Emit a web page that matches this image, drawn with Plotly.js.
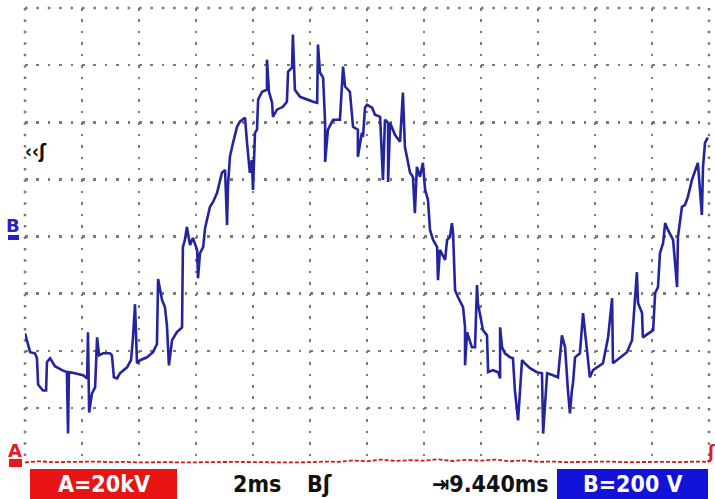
<!DOCTYPE html>
<html>
<head>
<meta charset="utf-8">
<script src="https://cdn.plot.ly/plotly-3.0.1.min.js"></script>
<style>html,body{margin:0;padding:0;background:#fff;}#chart{width:715px;height:499px;}</style>
</head>
<body>
<div id="chart"></div>
<script>
// Channel B (blue) : time in ms, voltage in V (200 V/div)
const timeB = [0,0.07,0.18,0.35,0.42,0.46,0.63,0.74,0.77,0.88,1.05,1.30,1.47,1.51,1.54,1.75,2.04,2.18,2.21,2.25,2.35,2.46,2.53,2.60,2.74,2.98,3.05,3.12,3.23,3.33,3.58,3.72,3.79,3.86,3.93,4.04,4.28,4.49,4.63,4.67,4.81,4.91,4.98,5.05,5.16,5.33,5.51,5.54,5.61,5.68,5.79,5.89,6.04,6.07,6.14,6.25,6.32,6.49,6.60,6.74,6.91,7.02,7.09,7.12,7.19,7.30,7.44,7.54,7.72,7.79,7.89,7.96,8.00,8.07,8.14,8.18,8.32,8.49,8.49,8.56,8.67,8.70,8.84,9.05,9.19,9.23,9.37,9.40,9.47,9.65,9.89,10.11,10.25,10.28,10.35,10.46,10.53,10.53,10.63,10.81,11.05,11.16,11.23,11.40,11.51,11.68,11.68,11.82,11.86,11.93,12.00,12.18,12.28,12.46,12.56,12.63,12.74,12.74,12.81,12.98,13.16,13.26,13.33,13.40,13.51,13.61,13.68,13.75,13.86,13.96,14.04,14.14,14.21,14.32,14.46,14.49,14.56,14.74,14.81,14.91,14.98,15.02,15.09,15.19,15.37,15.44,15.44,15.51,15.68,15.79,15.86,15.89,15.96,16.07,16.21,16.25,16.42,16.60,16.67,16.67,16.74,16.84,17.02,17.12,17.19,17.30,17.37,17.44,17.54,17.72,17.96,18.14,18.18,18.32,18.53,18.70,18.84,18.95,19.05,19.12,19.19,19.23,19.30,19.47,19.58,19.72,19.82,19.93,20.28,20.46,20.60,20.63,20.88,21.12,21.30,21.40,21.47,21.51,21.65,21.68,21.86,22.04,22.11,22.21,22.28,22.39,22.46,22.56,22.74,22.88,22.91,23.05,23.16,23.26,23.40,23.51,23.61,23.75,23.79,23.86,23.96];
const voltB = [-339,-363,-405,-409,-426,-518,-539,-539,-440,-426,-454,-468,-475,-690,-475,-479,-486,-497,-335,-616,-549,-528,-353,-416,-409,-409,-416,-493,-497,-479,-458,-433,-353,-237,-444,-433,-423,-405,-377,-149,-223,-247,-311,-451,-363,-335,-318,-37,-12,33,-30,-5,-47,-146,-58,-37,30,104,121,153,223,233,40,174,279,328,384,402,416,328,223,268,163,363,374,479,507,514,619,507,468,419,444,454,472,577,591,707,514,489,479,472,468,672,574,556,398,261,374,409,409,595,525,507,384,374,279,363,349,451,461,451,426,419,198,409,398,191,398,356,332,504,314,279,223,209,82,244,209,258,163,128,23,-12,-37,-153,-47,-82,-12,-2,47,12,-188,-212,-247,-318,-451,-335,-388,-388,-170,-233,-268,-328,-346,-475,-468,-475,-497,-318,-388,-409,-423,-426,-539,-644,-539,-433,-444,-461,-475,-479,-690,-479,-486,-493,-346,-388,-539,-619,-539,-511,-423,-409,-268,-398,-493,-468,-444,-353,-216,-444,-423,-405,-363,-212,-125,-233,-268,-353,-339,-328,-198,-177,-58,-23,47,23,-12,-177,-2,104,111,139,198,233,258,75,244,328,346];

// Channel A (red) : time in ms, voltage in kV (20 kV/div)
const timeA = [0,0.5,1,1.5,2,2.5,3,3.5,4,4.5,5,5.5,6,6.5,7,7.5,8,8.5,9,9.5,10,10.5,11,11.5,12,12.5,13,13.5,14,14.5,15,15.5,16,16.5,17,17.5,18,18.5,19,19.5,20,20.5,21,21.5,22,22.5,23,23.5,24];
const voltA = [0.2,0.6,0.3,0.4,0.3,0.5,0.3,0.4,0.2,0.3,0.3,0.2,0.3,0.2,0.3,0.4,0.3,0.2,0.3,0.2,0.3,0.5,0.4,0.9,0.6,1.2,0.7,1.0,0.8,1.3,0.7,1.1,0.8,1.2,0.6,0.9,0.4,0.5,0.3,0.4,0.3,0.5,0.3,0.4,0.3,0.4,0.3,0.5,0.4];

const xTicks = [0,2,4,6,8,10,12,14,16,18,20,22,24];
const yTicks = [-800,-600,-400,-200,0,200,400,600,800];

const traceB = {
  x: timeB, y: voltB, type: 'scatter', mode: 'lines',
  line: {color: '#24249e', width: 2.6}, hoverinfo: 'skip', showlegend: false
};
const traceA = {
  x: timeA, y: voltA, type: 'scatter', mode: 'lines', yaxis: 'y2',
  line: {color: '#cc1a1a', width: 1.8, dash: '4px,2px'}, hoverinfo: 'skip', showlegend: false
};

const W = 715, H = 499, L = 25, R = 709, T = 8, B = 465;
const px = x => (x - L) / (R - L);
const py = y => (B - y) / (B - T);

const GRID = '#7a7a7a';
const fontBar = {family: 'DejaVu Sans Condensed, DejaVu Sans, sans-serif', size: 23, color: '#111'};
const annW = Object.assign({}, fontBar, {color: '#fff'});

const layout = {
  width: W, height: H,
  margin: {l: L, r: W - R, t: T, b: H - B, pad: 0},
  paper_bgcolor: '#ffffff', plot_bgcolor: '#ffffff',
  xaxis: {
    range: [0, 24], tickvals: xTicks, showticklabels: false, ticks: '',
    showgrid: true, gridcolor: GRID, gridwidth: 2.5, griddash: '2.5px,8.925px',
    zeroline: false, showline: false, fixedrange: true
  },
  yaxis: {
    range: [-800, 800], tickvals: yTicks, showticklabels: false, ticks: '',
    showgrid: true, gridcolor: GRID, gridwidth: 2.5, griddash: '2.5px,8.9px',
    zeroline: false, showline: false, fixedrange: true
  },
  yaxis2: {
    overlaying: 'y', range: [-0.7, 159.3], showgrid: false, zeroline: false,
    showticklabels: false, ticks: '', showline: false
  },
  shapes: [
    {type: 'line', xref: 'paper', yref: 'paper', x0: 0, x1: 1, y0: 1, y1: 1, layer: 'below',
     line: {color: GRID, width: 2.5, dash: '2.5px,8.9px'}},
    {type: 'line', xref: 'paper', yref: 'paper', x0: 0, x1: 0, y0: 1, y1: 0, layer: 'below',
     line: {color: GRID, width: 2.5, dash: '2.5px,8.925px'}},
    {type: 'line', xref: 'paper', yref: 'paper', x0: 1, x1: 1, y0: 1, y1: 0, layer: 'below',
     line: {color: GRID, width: 2.5, dash: '2.5px,8.925px'}},
    {type: 'rect', xref: 'paper', yref: 'paper', x0: px(30), x1: px(177), y0: py(499), y1: py(469),
     fillcolor: '#e81414', line: {width: 0}},
    {type: 'rect', xref: 'paper', yref: 'paper', x0: px(557), x1: px(708), y0: py(499), y1: py(469),
     fillcolor: '#1212d8', line: {width: 0}},
    {type: 'rect', xref: 'paper', yref: 'paper', x0: px(8), x1: px(19), y0: py(240), y1: py(235),
     fillcolor: '#2222c8', line: {width: 0}},
    {type: 'rect', xref: 'paper', yref: 'paper', x0: px(9), x1: px(22), y0: py(467), y1: py(459),
     fillcolor: '#e01c1c', line: {width: 0}}
  ],
  annotations: [
    {text: '<b>A=20kV</b>', xref: 'paper', yref: 'paper', x: px(104), y: py(484), showarrow: false, font: annW, xanchor: 'center', yanchor: 'middle'},
    {text: '<b>2ms</b>', xref: 'paper', yref: 'paper', x: px(257), y: py(484), showarrow: false, font: fontBar, xanchor: 'center', yanchor: 'middle'},
    {text: '<b>B\u0283</b>', xref: 'paper', yref: 'paper', x: px(319), y: py(484), showarrow: false, font: fontBar, xanchor: 'center', yanchor: 'middle'},
    {text: '<b>\u21E59.440ms</b>', xref: 'paper', yref: 'paper', x: px(490), y: py(484), showarrow: false, font: fontBar, xanchor: 'center', yanchor: 'middle'},
    {text: '<b>B=200 V</b>', xref: 'paper', yref: 'paper', x: px(633), y: py(484), showarrow: false, font: annW, xanchor: 'center', yanchor: 'middle'},
    {text: '<b>\u2039\u2039\u0283</b>', xref: 'paper', yref: 'paper', x: px(36), y: py(151), showarrow: false,
     font: {family: 'DejaVu Sans Condensed, DejaVu Sans, sans-serif', size: 19, color: '#111'}, xanchor: 'center', yanchor: 'middle'},
    {text: '<b>B</b>', xref: 'paper', yref: 'paper', x: px(13), y: py(225), showarrow: false,
     font: {family: 'DejaVu Sans, sans-serif', size: 18, color: '#2222c8'}, xanchor: 'center', yanchor: 'middle'},
    {text: '<b>A</b>', xref: 'paper', yref: 'paper', x: px(15), y: py(450), showarrow: false,
     font: {family: 'DejaVu Sans, sans-serif', size: 18, color: '#e01c1c'}, xanchor: 'center', yanchor: 'middle'},
    {text: '<b>\u0283</b>', xref: 'paper', yref: 'paper', x: px(712), y: py(452), showarrow: false,
     font: {family: 'DejaVu Sans, sans-serif', size: 17, color: '#e01c1c'}, xanchor: 'center', yanchor: 'middle'}
  ]
};

Plotly.newPlot('chart', [traceA, traceB], layout, {displayModeBar: false, staticPlot: true});
</script>
</body>
</html>
